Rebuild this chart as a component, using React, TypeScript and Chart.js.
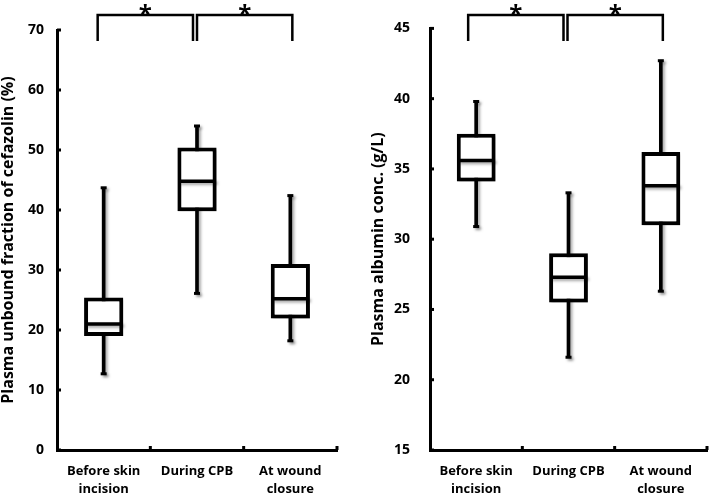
import React, { useEffect, useRef } from 'react';
import { Chart, registerables } from 'chart.js';

Chart.register(...registerables);

// ---------- data ----------
const categories = [['Before skin', 'incision'], ['During CPB'], ['At wound', 'closure']];

// Left panel: plasma unbound fraction of cefazolin (%)
const ufMin = [12.7, 26.1, 18.2];
const ufQ1 = [19.0, 39.8, 21.9];
const ufMedian = [21.0, 44.8, 25.2];
const ufQ3 = [25.4, 50.4, 31.0];
const ufMax = [43.7, 54.0, 42.4];
const ufTicks = [0, 10, 20, 30, 40, 50, 60, 70];

// Right panel: plasma albumin conc. (g/L)
const albMin = [30.9, 21.6, 26.3];
const albQ1 = [34.1, 25.5, 31.0];
const albMedian = [35.6, 27.3, 33.8];
const albQ3 = [37.5, 29.0, 36.2];
const albMax = [39.8, 33.3, 42.7];
const albTicks = [15, 20, 25, 30, 35, 40, 45];

// significance comparisons (category index pairs)
const sigPairs = [[0, 1], [1, 2]];
const sigLabel = '*';

const FONT = '"Open Sans", "DejaVu Sans", sans-serif';

type Panel = {
  title: string;
  min: number[]; q1: number[]; med: number[]; q3: number[]; max: number[];
  ticks: number[];
  yWidth: number;
  tickPad: number;
  padTop: number;
  padRight: number;
  bracketOffsets: number[][];
};

function makePlugin(p: Panel) {
  return {
    id: 'boxExtras',
    beforeDatasetsDraw(chart: any) {
      const ctx = chart.ctx;
      ctx.save();
      ctx.shadowColor = 'rgba(0,0,0,0.35)';
      ctx.shadowOffsetX = 2;
      ctx.shadowOffsetY = 2;
      ctx.shadowBlur = 3;
    },
    afterDatasetsDraw(chart: any) {
      const ctx = chart.ctx;
      const y = chart.scales.y;
      const boxMeta = chart.getDatasetMeta(0);
      const whMeta = chart.getDatasetMeta(1);
      // medians
      ctx.strokeStyle = '#000';
      ctx.lineWidth = 3.5;
      boxMeta.data.forEach((el: any, i: number) => {
        const yy = y.getPixelForValue(p.med[i]);
        ctx.beginPath();
        ctx.moveTo(el.x - el.width / 2 + 1, yy);
        ctx.lineTo(el.x + el.width / 2 - 1, yy);
        ctx.stroke();
      });
      // whisker caps
      ctx.lineWidth = 3;
      whMeta.data.forEach((el: any, i: number) => {
        [p.min[i], p.max[i]].forEach((v) => {
          const yy = y.getPixelForValue(v);
          ctx.beginPath();
          ctx.moveTo(el.x - 3, yy);
          ctx.lineTo(el.x + 3, yy);
          ctx.stroke();
        });
      });
      ctx.restore();
    },
    afterDraw(chart: any) {
      const ctx = chart.ctx;
      const x = chart.scales.x;
      const y = chart.scales.y;
      const area = chart.chartArea;
      ctx.save();
      ctx.strokeStyle = '#000';
      ctx.fillStyle = '#000';
      // inner y tick stubs
      ctx.lineWidth = 3;
      p.ticks.forEach((v) => {
        const yy = y.getPixelForValue(v);
        ctx.beginPath();
        ctx.moveTo(area.left, yy);
        ctx.lineTo(area.left + 4, yy);
        ctx.stroke();
      });
      // inner x tick stubs at category boundaries
      const half = (x.getPixelForValue(1) - x.getPixelForValue(0)) / 2;
      categories.forEach((_, i) => {
        const xx = x.getPixelForValue(i) + half;
        ctx.beginPath();
        ctx.moveTo(xx, area.bottom);
        ctx.lineTo(xx, area.bottom - 4);
        ctx.stroke();
      });
      // significance brackets
      ctx.lineWidth = 2.5;
      const topY = 15;
      const legY = 41;
      sigPairs.forEach(([a, b], k) => {
        const xa = x.getPixelForValue(a) + p.bracketOffsets[k][0];
        const xb = x.getPixelForValue(b) + p.bracketOffsets[k][1];
        ctx.beginPath();
        ctx.moveTo(xa, legY);
        ctx.lineTo(xa, topY);
        ctx.lineTo(xb, topY);
        ctx.lineTo(xb, legY);
        ctx.stroke();
        ctx.font = `bold 24px ${FONT}`;
        ctx.textAlign = 'center';
        ctx.textBaseline = 'alphabetic';
        ctx.fillText(sigLabel, (xa + xb) / 2, 22);
      });
      ctx.restore();
    },
  };
}

function makeConfig(p: Panel): any {
  return {
    type: 'bar',
    data: {
      labels: categories,
      datasets: [
        {
          label: 'box',
          data: p.q1.map((v, i) => [v, p.q3[i]]),
          backgroundColor: '#fff',
          borderColor: '#000',
          borderWidth: 4,
          borderSkipped: false,
          barPercentage: 0.42,
          categoryPercentage: 1,
          grouped: false,
        },
        {
          label: 'whisker',
          data: p.min.map((v, i) => [v, p.max[i]]),
          backgroundColor: '#000',
          borderWidth: 0,
          barThickness: 3,
          grouped: false,
        },
      ],
    },
    options: {
      responsive: false,
      animation: false,
      devicePixelRatio: 1,
      layout: { padding: { top: p.padTop, right: p.padRight, left: 0, bottom: 0 } },
      plugins: { legend: { display: false }, tooltip: { enabled: false } },
      scales: {
        x: {
          type: 'category',
          grid: { display: false, drawTicks: false },
          border: { display: true, color: '#000', width: 3 },
          ticks: {
            color: '#000',
            font: { family: FONT, weight: 'bold', size: 13, lineHeight: 1.35 },
            padding: 13,
            maxRotation: 0,
            autoSkip: false,
          },
          afterFit: (s: any) => { s.height = 47; },
        },
        y: {
          min: p.ticks[0],
          max: p.ticks[p.ticks.length - 1],
          afterBuildTicks: (s: any) => { s.ticks = p.ticks.map((v) => ({ value: v })); },
          grid: { display: false, drawTicks: false },
          border: { display: true, color: '#000', width: 3 },
          ticks: {
            color: '#000',
            font: { family: FONT, weight: 'bold', size: 14 },
            padding: p.tickPad,
          },
          title: {
            display: true,
            text: p.title,
            color: '#000',
            font: { family: FONT, weight: 'bold', size: 16, lineHeight: 1.0 },
            padding: 0,
          },
          afterFit: (s: any) => { s.width = p.yWidth; },
        },
      },
    },
    plugins: [makePlugin(p)],
  };
}

function BoxChart({ panel, width, height }: { panel: Panel; width: number; height: number }) {
  const ref = useRef<HTMLCanvasElement | null>(null);
  useEffect(() => {
    if (!ref.current) return;
    const chart = new Chart(ref.current, makeConfig(panel));
    return () => chart.destroy();
  }, [panel]);
  return <canvas ref={ref} width={width} height={height} style={{ width, height, display: 'block' }} />;
}

const leftPanel: Panel = {
  title: 'Plasma unbound fraction of cefazolin (%)',
  min: ufMin, q1: ufQ1, med: ufMedian, q3: ufQ3, max: ufMax,
  ticks: ufTicks,
  yWidth: 57,
  tickPad: 13,
  padTop: 30,
  padRight: 18,
  bracketOffsets: [[-6, -4], [0, 2]],
};

const rightPanel: Panel = {
  title: 'Plasma albumin conc. (g/L)',
  min: albMin, q1: albQ1, med: albMedian, q3: albQ3, max: albMax,
  ticks: albTicks,
  yWidth: 60,
  tickPad: 20,
  padTop: 25.5,
  padRight: 2,
  bracketOffsets: [[-8, -5], [-1, 2]],
};

export default function App() {
  return (
    <div style={{ position: 'fixed', left: 0, top: 0, width: 709, height: 497, background: '#fff' }}>
      <div style={{ position: 'absolute', left: 0, top: 0 }}>
        <BoxChart panel={leftPanel} width={355} height={497} />
      </div>
      <div style={{ position: 'absolute', left: 370, top: 0 }}>
        <BoxChart panel={rightPanel} width={339} height={497} />
      </div>
    </div>
  );
}
